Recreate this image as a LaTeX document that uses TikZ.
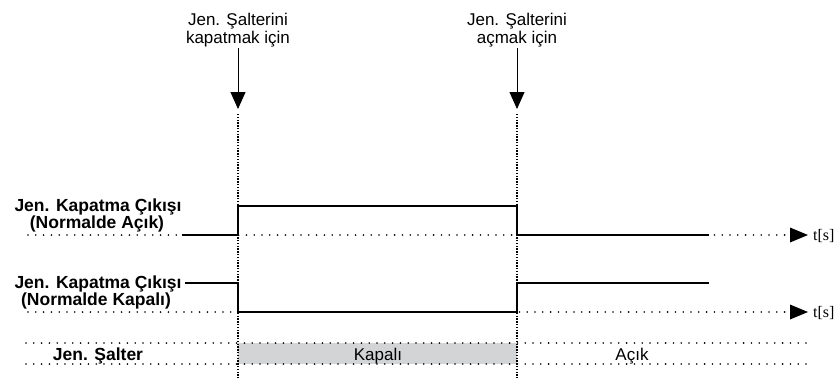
\documentclass[tikz,border=0pt]{standalone}
\usepackage{fontspec}
\setmainfont{Liberation Sans}
\newfontfamily\timefont{Liberation Serif}
\usetikzlibrary{arrows.meta}
\definecolor{bandgray}{RGB}{211,212,214}
\begin{document}
\begin{tikzpicture}[x=1pt,y=-1pt,
  signal/.style={line width=2.9pt,line cap=rect},
  gridline/.style={line width=1.8pt,dash pattern=on 0pt off 7.8pt,line cap=round},
  marker/.style={line width=1.2pt,dash pattern=on 1.4pt off 1.4pt},
  pointer/.style={line width=0.9pt,-{Triangle[width=15pt,length=17pt]}},
  axis/.style={gridline,-{Triangle[width=15pt,length=18pt,line width=0pt]}},
  lbl/.style={font=\fontsize{17.5}{17}\selectfont\bfseries,inner sep=0pt,anchor=base},
  toplbl/.style={font=\fontsize{17}{18.5}\selectfont,inner sep=0pt,anchor=base},
  tlbl/.style={font=\fontsize{16}{18}\selectfont\timefont,anchor=base west,inner sep=0pt}]
\useasboundingbox (0,0) rectangle (837,378);

% switching instants
\coordinate (c1) at (238,109);
\coordinate (c2) at (517,109);
\coordinate (c1d) at (238,114);
\coordinate (c2d) at (517,114);
\coordinate (c1b) at (238,378);
\coordinate (c2b) at (517,378);

% bottom band
\fill[bandgray] (238,343) rectangle (517,364);
\coordinate (bandA) at (26,343);
\coordinate (bandAe) at (806,343);
\coordinate (bandB) at (26,364);
\coordinate (bandBe) at (806,364);
\draw[gridline] (bandA) -- (bandAe);
\draw[gridline] (bandB) -- (bandBe);

% instant markers
\draw[marker] (c1d) -- (c1b);
\draw[marker] (c2d) -- (c2b);

% top labels and pointers
\node[toplbl] (t1a) at (238,25) {Jen. Şalterini};
\node[toplbl] (t1b) at (238,43) {kapatmak için};
\node[toplbl] (t2a) at (517,25) {Jen. Şalterini};
\node[toplbl] (t2b) at (517,43) {açmak için};
\coordinate (p1) at (238,48);
\coordinate (p2) at (517,48);
\draw[pointer] (p1) -- (c1);
\draw[pointer] (p2) -- (c2);

% time axes
\coordinate (a1s) at (28,235);
\coordinate (a1e) at (808,235);
\coordinate (a2s) at (28,312);
\coordinate (a2e) at (808,312);
\draw[axis] (a1s) -- (a1e);
\draw[axis] (a2s) -- (a2e);
\node[tlbl] (ts1) at (813,240) {t[s]};
\node[tlbl] (ts2) at (813,317) {t[s]};

% output, normally open
\draw[signal] (183,235) -- (238,235) -- (238,206) -- (517,206) -- (517,235) -- (708,235);
% output, normally closed
\draw[signal] (186,283) -- (238,283) -- (238,312) -- (517,312) -- (517,283) -- (708,283);

% signal names
\node[lbl] (n1a) at (98,211) {Jen. Kapatma Çıkışı};
\node[lbl] (n1b) at (97,228) {(Normalde Açık)};
\node[lbl] (n2a) at (98,288) {Jen. Kapatma Çıkışı};
\node[lbl] (n2b) at (96,305) {(Normalde Kapalı)};

% band labels
\node[lbl] (sw) at (98,360) {Jen. Şalter};
\node[toplbl] (closed) at (378,360) {Kapalı};
\node[toplbl] (open) at (632,360) {Açık};
\end{tikzpicture}
\end{document}
